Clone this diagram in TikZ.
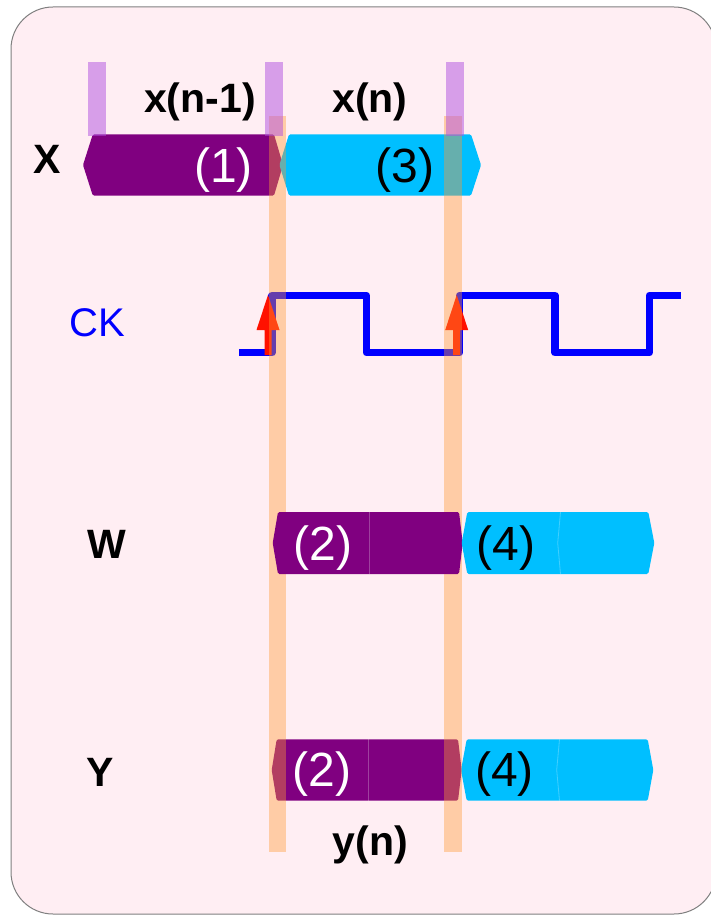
\documentclass[tikz,border=0pt]{standalone}
\usepackage{fontspec}
\setmainfont{Liberation Sans}
\definecolor{bgpink}{HTML}{FFEEF3}
\definecolor{boxpurple}{HTML}{800080}
\definecolor{boxcyan}{HTML}{00BFFF}
\definecolor{edgeorange}{HTML}{FF9933}
\definecolor{markviolet}{HTML}{B050E0}
\definecolor{clkblue}{HTML}{0000FF}
\definecolor{arrowred}{HTML}{FF1100}
\tikzset{
  lbl/.style={font=\fontsize{41}{49}\selectfont\bfseries, inner sep=0pt, anchor=base},
  cklbl/.style={font=\fontsize{40}{48}\selectfont, text=clkblue, inner sep=0pt, anchor=base},
  num/.style={font=\fontsize{48}{58}\selectfont, inner sep=0pt, anchor=base},
  pbox/.style={fill=boxpurple, rounded corners=1.5pt},
  cbox/.style={fill=boxcyan, rounded corners=1.5pt},
  seam/.style={draw=white, draw opacity=0.25, line width=0.8pt},
  edgebar/.style={fill=edgeorange, fill opacity=0.4},
  markbar/.style={fill=markviolet, fill opacity=0.5},
  clockline/.style={draw=clkblue, line width=7.5pt, line join=round, line cap=butt},
  risearrow/.style={fill=arrowred}
}
\begin{document}
\begin{tikzpicture}[x=1pt,y=-1pt]
\useasboundingbox (0,0) rectangle (710,915);
% background panel
\path[fill=bgpink, draw=black!50, line width=1pt, rounded corners=42pt] (11,7) rectangle (716,914);

% X row boxes
\path[pbox] (83,165) -- (92.8,134.3) -- (274,134.3) -- (283,165) -- (274,195.7) -- (92.8,195.7) -- cycle;
\path[cbox] (279.4,165) -- (289,134.3) -- (471,134.3) -- (481,165) -- (471,195.7) -- (289,195.7) -- cycle;

% clock
\coordinate (ck0) at (239.3,352.7);
\coordinate (ck1) at (680.7,295.5);
\draw[clockline] (ck0) -- (272,352.7) -- (272,295.5) -- (366.3,295.5) -- (366.3,352.7)
  -- (459.7,352.7) -- (459.7,295.5) -- (555,295.5) -- (555,352.7) -- (649.3,352.7)
  -- (649.3,295.5) -- (ck1);

% rising edge arrows
\path[risearrow] (264.5,355) -- (264.5,330) -- (256.5,330) -- (268,295) -- (279.5,330) -- (271.5,330) -- (271.5,355) -- cycle;
\path[risearrow] (453.2,355) -- (453.2,330) -- (445.2,330) -- (456.7,295) -- (468.2,330) -- (460.2,330) -- (460.2,355) -- cycle;

% Y row boxes (under the edge bars)
\path[pbox] (271.7,770) -- (276.7,739.3) -- (458,739.3) -- (461.7,770) -- (458,800.7) -- (276.7,800.7) -- cycle;
\path[cbox] (461,770) -- (466.7,739.3) -- (647.7,739.3) -- (653.3,770) -- (647.7,800.7) -- (466.7,800.7) -- cycle;
\path[seam] (368.3,739.3) -- (368.3,800.7);
\path[seam] (559.5,739.3) -- (556.7,770) -- (559.5,800.7);

% edge (sampling) bars
\path[edgebar] (268.6,116) rectangle (286,852);
\path[edgebar] (443.8,116) rectangle (462,852);

% W row boxes (over the edge bars)
\path[pbox] (272.7,543) -- (278,512) -- (459,512) -- (462.7,543) -- (459,574) -- (278,574) -- cycle;
\path[cbox] (461.7,543) -- (467.3,512) -- (648.3,512) -- (654.3,543) -- (648.3,574) -- (467.3,574) -- cycle;
\path[seam] (369,512) -- (369,574);
\path[seam] (560.5,512) -- (557.7,543) -- (560.5,574);

% sample markers
\path[markbar] (88.3,62) rectangle (106.4,136);
\path[markbar] (264.5,62) rectangle (282.6,136);
\path[markbar] (446,62) rectangle (464.2,136);

% labels
\node[lbl] (lx) at (47,173.3) {X};
\node[lbl] (lxn1) at (200,112.6) {x(n-1)};
\node[lbl] (lxn) at (370,112.6) {x(n)};
\node[cklbl] (lck) at (97.5,336) {CK};
\node[lbl] (lw) at (107,558.3) {W};
\node[lbl] (ly) at (100,786.7) {Y};
\node[lbl] (lyn) at (370.5,855) {y(n)};

\node[num, text=white] (n1) at (223.5,182) {(1)};
\node[num, text=black] (n3) at (405,182) {(3)};
\node[num, text=white] (n2w) at (323,560) {(2)};
\node[num, text=black] (n4w) at (505.8,560) {(4)};
\node[num, text=white] (n2y) at (322,786.4) {(2)};
\node[num, text=black] (n4y) at (504.5,786.4) {(4)};
\end{tikzpicture}
\end{document}
